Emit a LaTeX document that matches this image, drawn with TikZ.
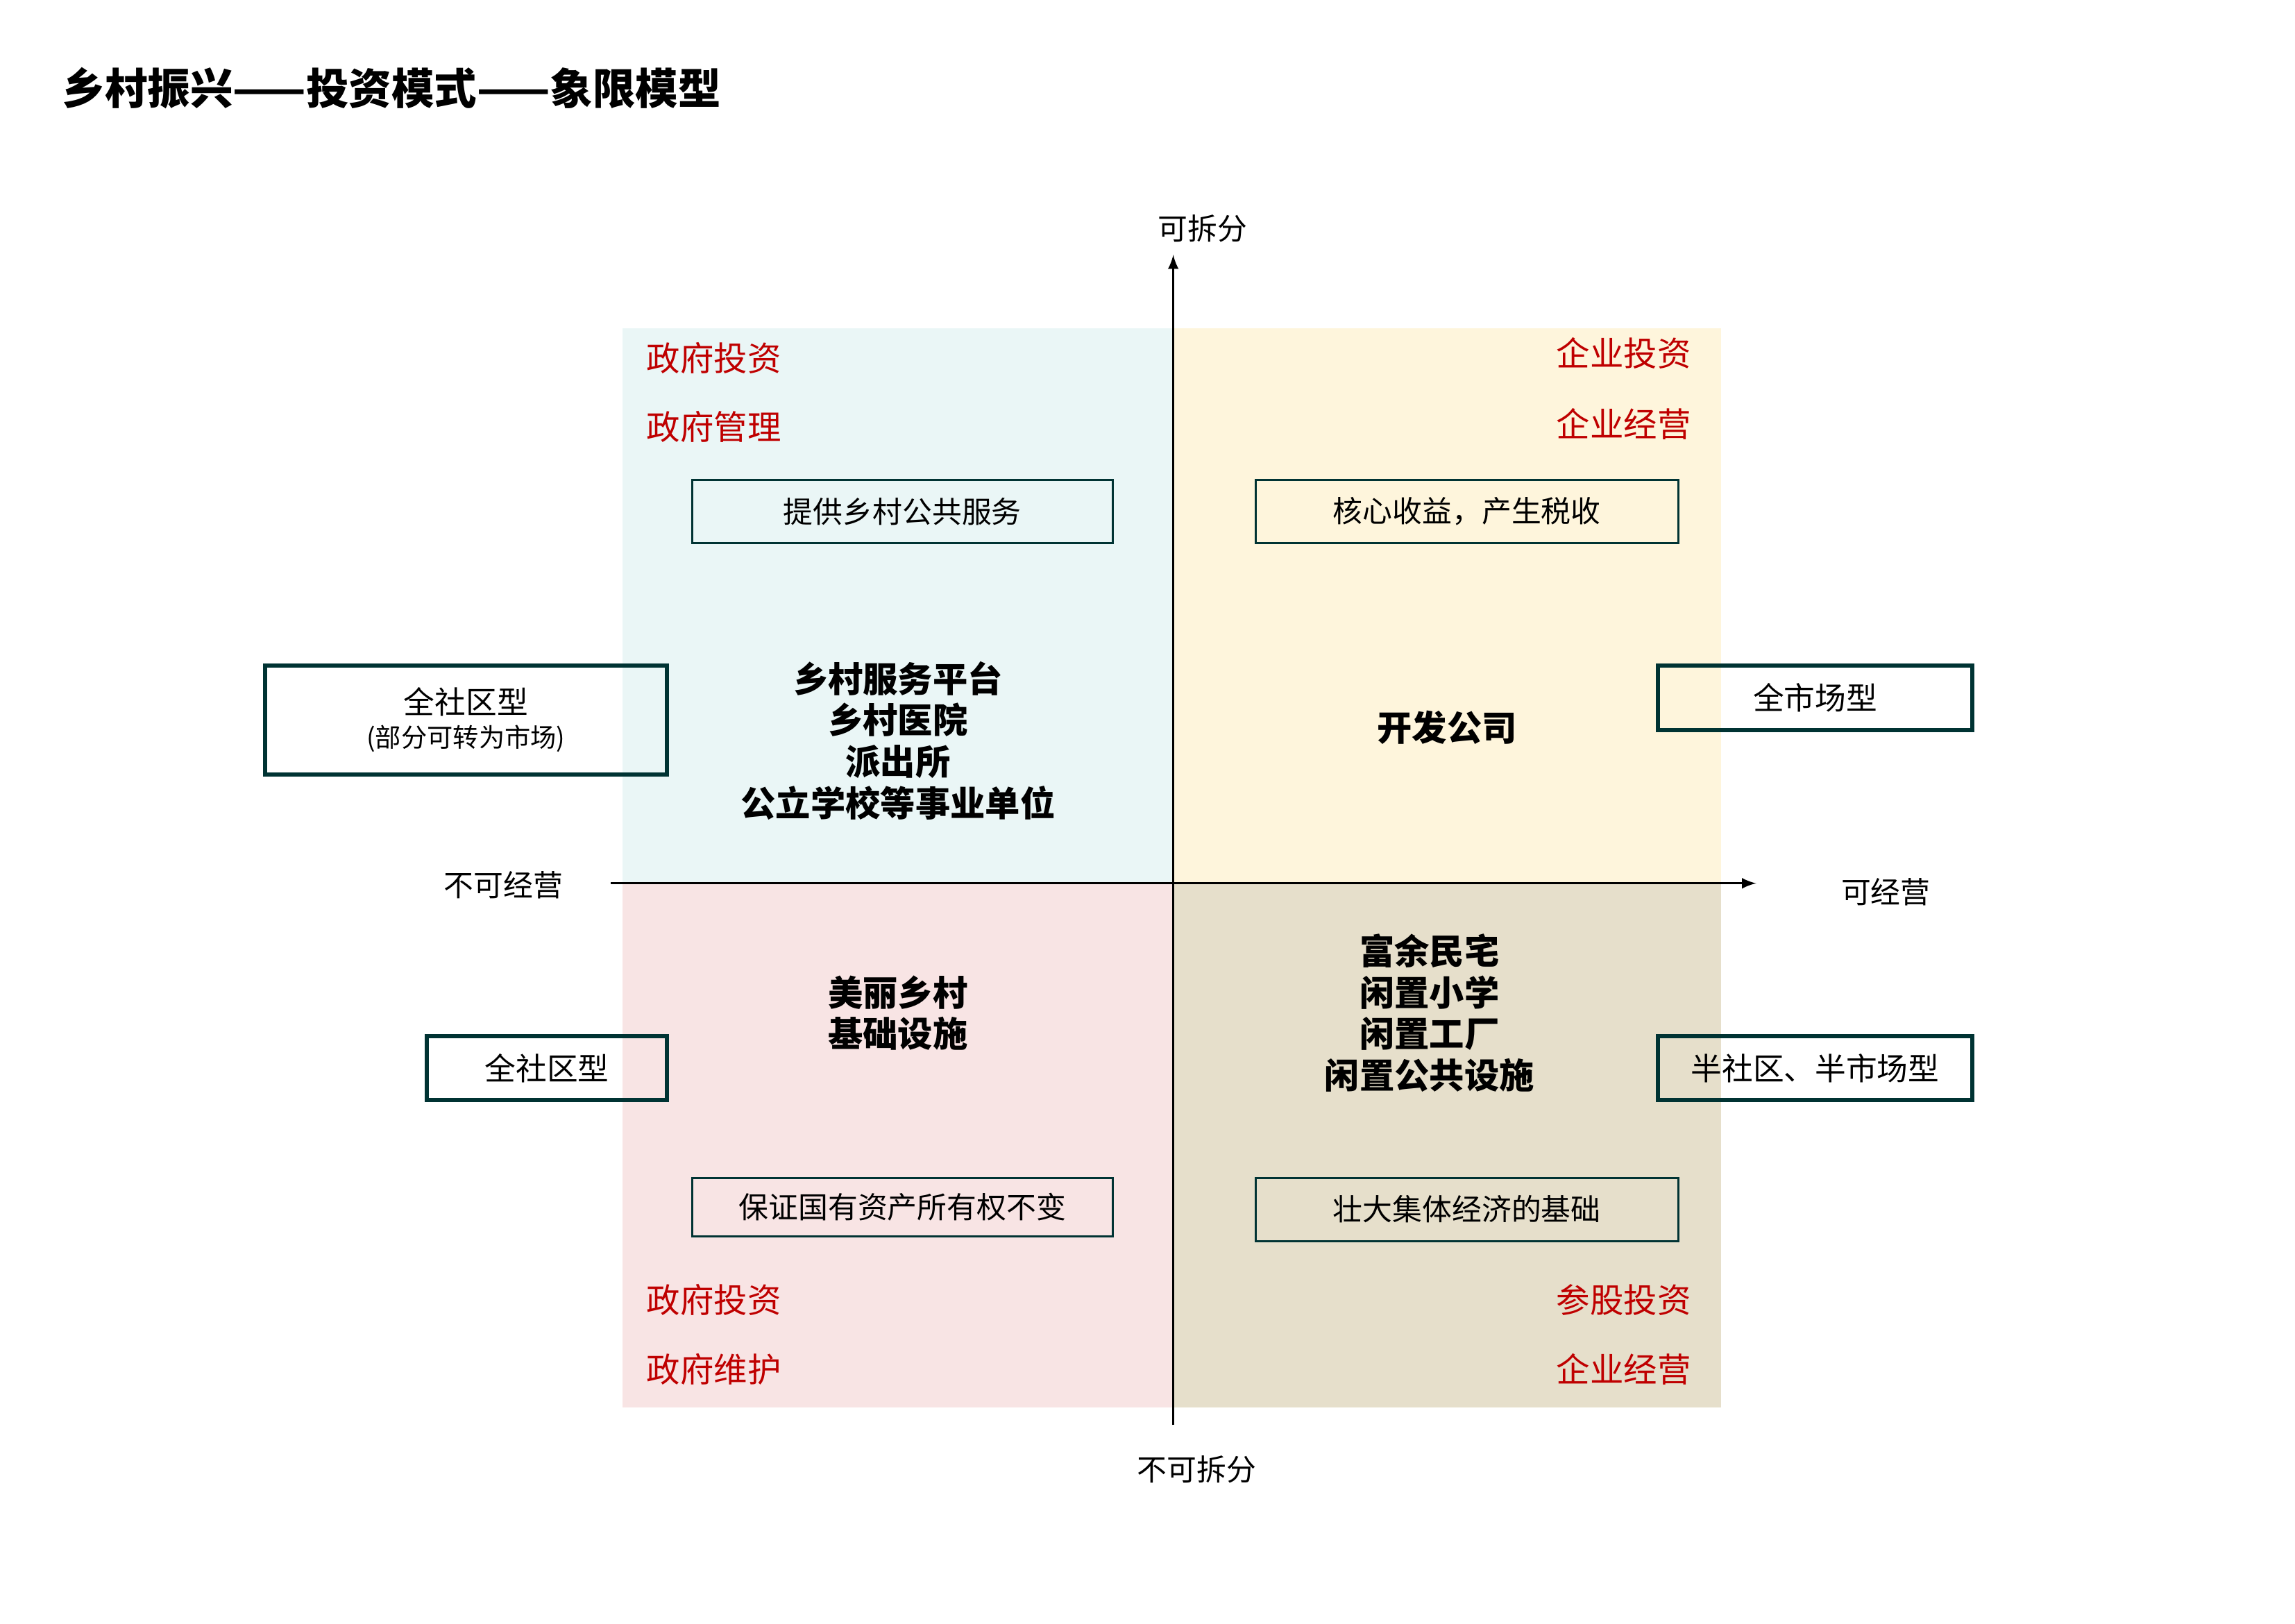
\documentclass[tikz,border=0pt]{standalone}
\usepackage{fontspec}
\setmainfont{Noto Sans CJK SC}
\begin{document}
\begin{tikzpicture}[x=0.02cm,y=-0.02cm,
  red/.style={text=red!75!black,font=\fontsize{13}{15}\selectfont},
  axl/.style={font=\fontsize{11.5}{14}\selectfont},
  cbox/.style={draw=teal!40!black,line width=0.8pt,font=\fontsize{11.5}{14}\selectfont,inner sep=0pt},
  sbox/.style={draw=teal!40!black,line width=1.6pt,font=\fontsize{12}{14}\selectfont,inner sep=0pt},
  ctext/.style={font=\bfseries\fontsize{13.5}{16}\selectfont,align=center}]
\useasboundingbox[fill=white] (0,0) rectangle (1559,1103);
\node[anchor=west,font=\bfseries\fontsize{16.5}{19}\selectfont] (title) at (36,60) {乡村振兴——投资模式——象限模型};
\fill[fill={rgb,255:red,234;green,246;blue,246}] (423,223) rectangle (797,600);
\fill[fill={rgb,255:red,254;green,245;blue,220}] (797,223) rectangle (1169,600);
\fill[fill={rgb,255:red,248;green,228;blue,228}] (423,600) rectangle (797,956);
\fill[fill={rgb,255:red,230;green,223;blue,203}] (797,600) rectangle (1169,956);
\coordinate (vb) at (797,968); \coordinate (vt) at (797,173);
\coordinate (hl) at (415,600); \coordinate (hr) at (1193,600);
\draw[-latex,line width=0.9pt] (vb) -- (vt);
\draw[-latex,line width=0.9pt] (hl) -- (hr);
\node[axl] (a1) at (817,155) {可拆分};
\node[axl] (a2) at (813,998) {不可拆分};
\node[axl] (a3) at (342,601) {不可经营};
\node[axl] (a4) at (1281,606) {可经营};
\node[red] (r1) at (485,243) {政府投资};
\node[red] (r2) at (485,290) {政府管理};
\node[red] (r3) at (1103,240) {企业投资};
\node[red] (r4) at (1103,288) {企业经营};
\node[red] (r5) at (485,883) {政府投资};
\node[red] (r6) at (485,930) {政府维护};
\node[red] (r7) at (1103,883) {参股投资};
\node[red] (r8) at (1103,930) {企业经营};
\node[cbox,minimum width=5.72cm,minimum height=0.86cm] (b1) at (613,347.5) {提供乡村公共服务};
\node[cbox,minimum width=5.74cm,minimum height=0.86cm] (b2) at (996.5,347.5) {核心收益，产生税收};
\node[cbox,minimum width=5.72cm,minimum height=0.80cm] (b3) at (613,820) {保证国有资产所有权不变};
\node[cbox,minimum width=5.74cm,minimum height=0.86cm] (b4) at (996.5,821.5) {壮大集体经济的基础};
\node[sbox,minimum width=5.46cm,minimum height=1.48cm,align=center] (s1) at (316.5,489) {全社区型\\[-1pt]{\fontsize{10}{12}\selectfont (部分可转为市场)}};
\node[sbox,minimum width=4.28cm,minimum height=0.88cm] (s2) at (1233,474) {全市场型};
\node[sbox,minimum width=3.26cm,minimum height=0.86cm] (s3) at (371.5,725.5) {全社区型};
\node[sbox,minimum width=4.28cm,minimum height=0.86cm] (s4) at (1233,725.5) {半社区、半市场型};
\node[ctext] (c1) at (610,503) {乡村服务平台\\乡村医院\\派出所\\公立学校等事业单位};
\node[ctext] (c2) at (983,494) {开发公司};
\node[ctext] (c3) at (610,688) {美丽乡村\\基础设施};
\node[ctext] (c4) at (971,688) {富余民宅\\闲置小学\\闲置工厂\\闲置公共设施};
\end{tikzpicture}
\end{document}
